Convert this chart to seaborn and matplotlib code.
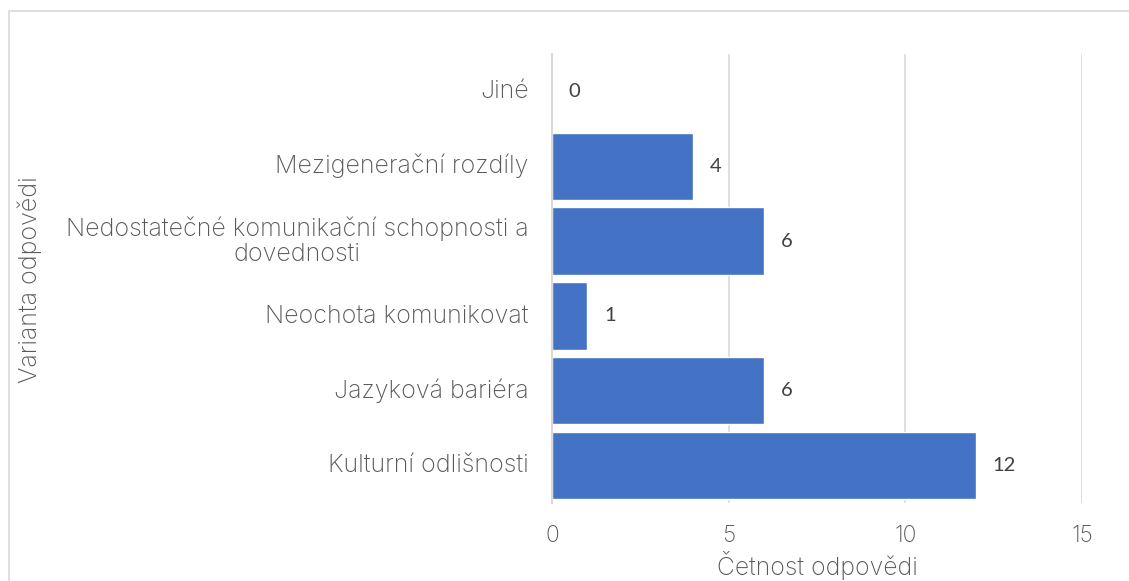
import pandas as pd
import matplotlib.pyplot as plt
import matplotlib.patches as mpatches
import matplotlib.transforms as mtransforms
import seaborn as sns

# data (top to bottom)
categories = [
    "Jiné",
    "Mezigenerační rozdíly",
    "Nedostatečné komunikační schopnosti a\ndovednosti",
    "Neochota komunikovat",
    "Jazyková bariéra",
    "Kulturní odlišnosti",
]
counts = [0, 4, 6, 1, 6, 12]
x_ticks = [0, 5, 10, 15]

df = pd.DataFrame({"varianta": categories, "cetnost": counts})

sns.set_style("white")
plt.rcParams["font.family"] = ["Inter", "DejaVu Sans"]
text_color = "#595959"
grid_color = "#d9d9d9"
bar_color = "#4472c4"

fig = plt.figure(figsize=(11.29, 5.81), dpi=100)
ax = fig.add_axes([552 / 1129, 78 / 581, 530 / 1129, 449 / 581])

sns.barplot(data=df, x="cetnost", y="varianta", orient="h",
            color=bar_color, width=0.9, saturation=1, ax=ax)

ax.set_xlim(0, 15)
ax.set_xticks(x_ticks, labels=[str(t) for t in x_ticks],
              fontsize=16.5, fontweight="light")
ax.xaxis.grid(True, color=grid_color, linewidth=1.2)
ax.set_axisbelow(True)
for side in ["top", "right", "bottom"]:
    ax.spines[side].set_visible(False)
ax.spines["left"].set_color(grid_color)
ax.spines["left"].set_linewidth(1.5)

ax.tick_params(axis="both", length=0, colors=text_color)
ax.tick_params(axis="x", pad=16)

# category labels drawn as text so the wrapped one can be centred line by line
ax.set_yticklabels([])
label_trans = ax.get_yaxis_transform() + mtransforms.ScaledTranslation(
    -17 / 72, 0, fig.dpi_scale_trans)
for i, name in enumerate(categories):
    ax.text(0, i, name, transform=label_trans, ha="right", va="center",
            multialignment="center", fontsize=18, fontweight="light",
            color=text_color, linespacing=1.1)

ax.set_xlabel("Četnost odpovědi", fontsize=17.8, color=text_color, labelpad=3,
              fontweight="light")
ax.set_ylabel("")
fig.text(30 / 1129, 1 - 280 / 581, "Varianta odpovědi", rotation=90,
         ha="center", va="center", fontsize=18, color=text_color,
         fontweight="light")

ax.bar_label(ax.containers[0], padding=12, fontsize=14.5, color="#404040",
             family=["Lato", "DejaVu Sans"])

# chart frame like the source
fig.patches.append(mpatches.Rectangle((9 / 1129, -0.1), 1.1, 1 - 11 / 581 + 0.1,
                                      transform=fig.transFigure, fill=False,
                                      edgecolor=grid_color, linewidth=1.2))

plt.savefig("out.png", dpi=100)
